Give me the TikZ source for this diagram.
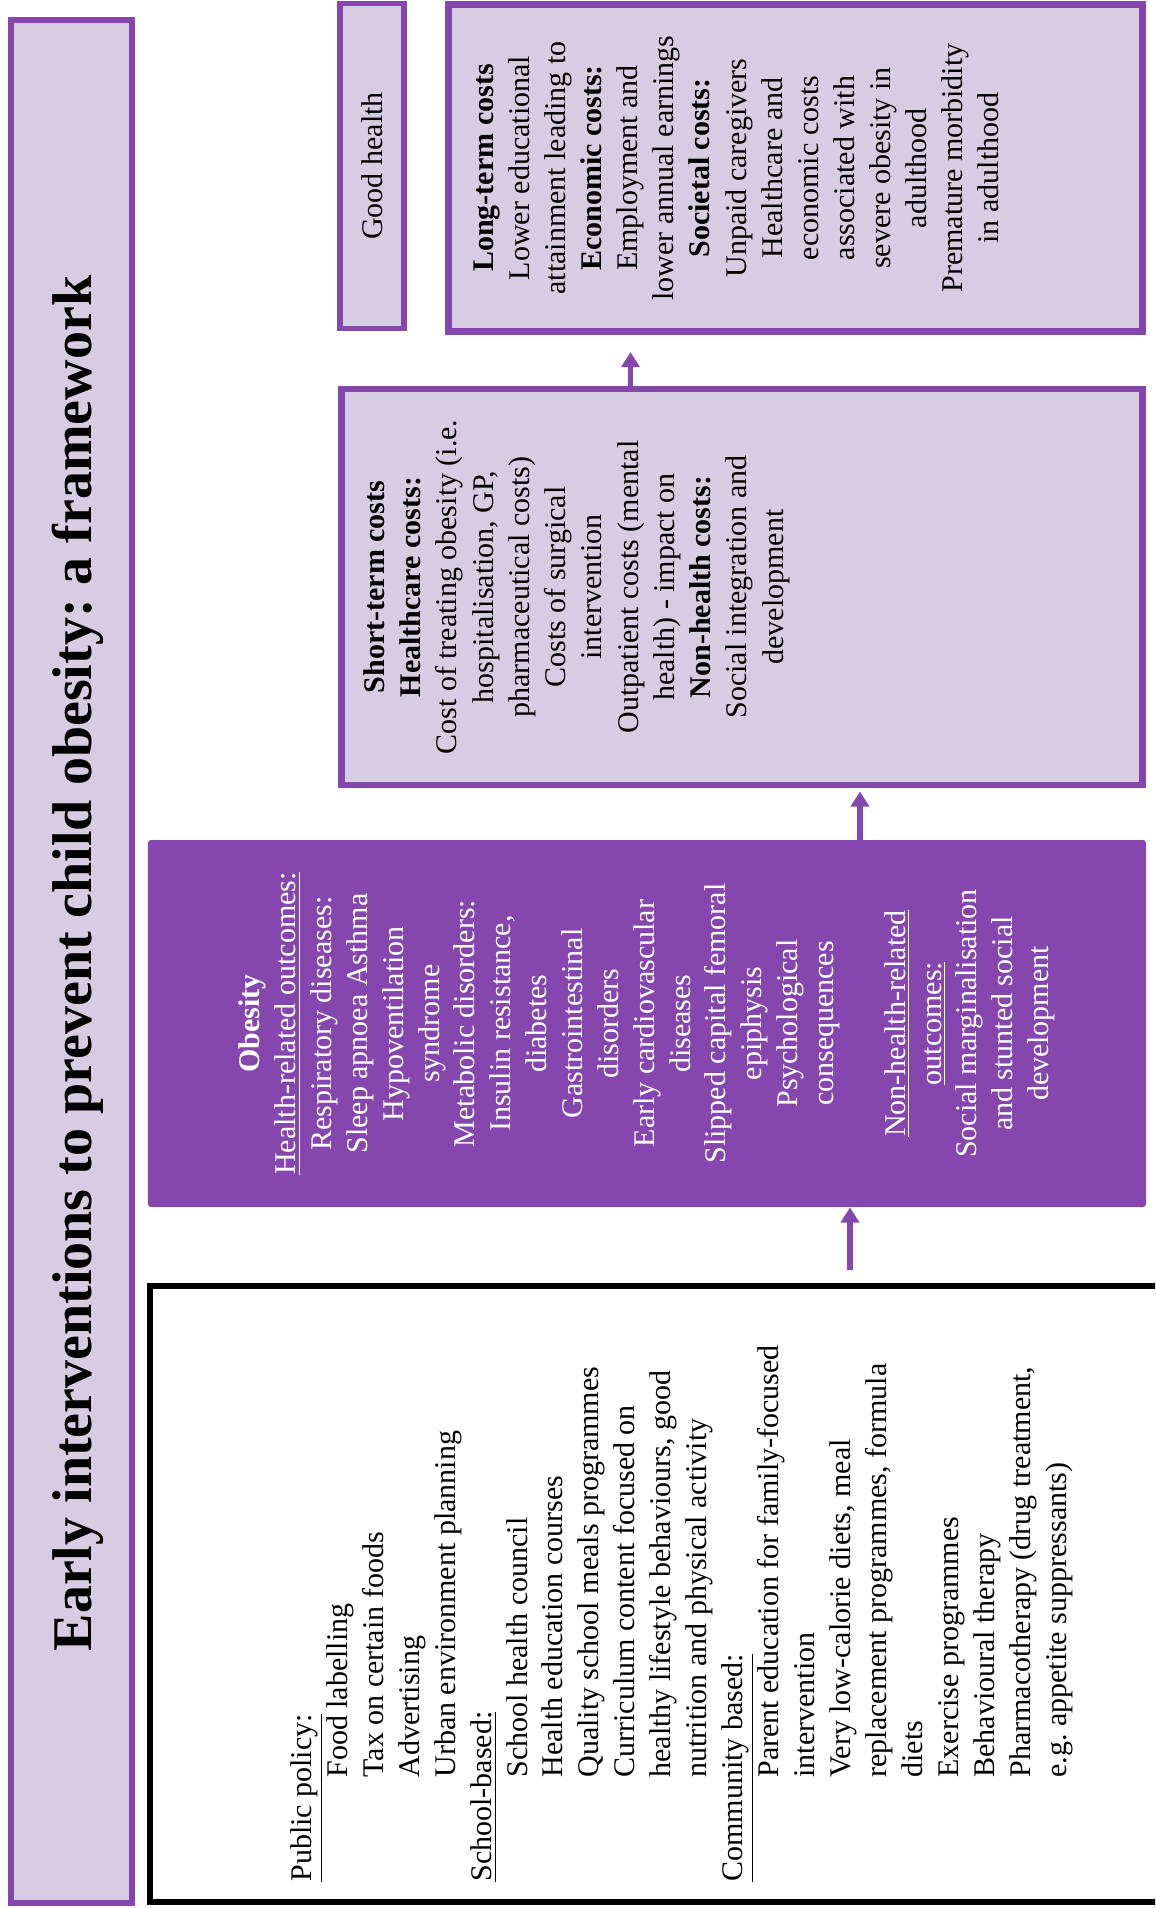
\documentclass[tikz,border=0pt]{standalone}
\usepackage{fontspec}
\setmainfont{Liberation Serif}
\usetikzlibrary{arrows.meta}
\definecolor{plum}{RGB}{133,71,173}
\definecolor{lilac}{RGB}{214,205,227}
\newcommand{\indt}{\hspace*{41.6pt}}
\frenchspacing
\begin{document}
\begin{tikzpicture}[x=0.4pt,y=-0.4pt,
  box/.style={rotate=90,draw=plum,fill=lilac,inner sep=0pt},
  txt/.style={rotate=90,inner sep=0pt,align=center,font=\fontsize{12}{14.45}\selectfont},
  flow/.style={plum,line width=2.2pt,-{Triangle[width=7.2pt,length=6pt]}}]
\useasboundingbox (0,0) rectangle (1155,1908);
\clip (0,0) rectangle (1155,1908);

\node[box,line width=2.3pt,minimum width=753.2pt,minimum height=48.2pt] (title) at (71.5,961.5) {};
\node[txt,anchor=base,font=\fontsize{22.4}{26}\selectfont\bfseries] (titletext) at (91.8,963.5) {Early interventions to prevent child obesity: a framework};

\node[box,draw=black,fill=white,line width=2.4pt,minimum width=246.4pt,minimum height=460pt] (interv) at (725,1594) {};
\node[txt,align=left,anchor=north west,font=\fontsize{12}{14.38}\selectfont] (intervtext) at (290,1882) {\underline{Public policy:}\\
\indt Food labelling\\
\indt Tax on certain foods\\
\indt Advertising\\
\indt Urban environment planning\\
\underline{School-based:}\\
\indt School health council\\
\indt Health education courses\\
\indt Quality school meals programmes\\
\indt Curriculum content focused on\\
\indt healthy lifestyle behaviours, good\\
\indt nutrition and physical activity\\
\underline{Community based:}\\
\indt Parent education for family-focused\\
\indt intervention\\
\indt Very low-calorie diets, meal\\
\indt replacement programmes, formula\\
\indt diets\\
\indt Exercise programmes\\
\indt Behavioural therapy\\
\indt Pharmacotherapy (drug treatment,\\
\indt e.g. appetite suppressants)};

\node[box,draw=none,fill=plum,rounded corners=1.2pt,minimum width=146.8pt,minimum height=399.2pt,text=white,align=center,font=\fontsize{12}{14.34}\selectfont] (obesity) at (647,1023.5) {\textbf{Obesity}\\
\underline{Health-related outcomes:}\\
Respiratory diseases:\\
Sleep apnoea Asthma\\
Hypoventilation\\
syndrome\\
Metabolic disorders:\\
Insulin resistance,\\
diabetes\\
Gastrointestinal\\
disorders\\
Early cardiovascular\\
diseases\\
Slipped capital femoral\\
epiphysis\\
Psychological\\
consequences\\[14.34pt]
\underline{Non-health-related}\\
\underline{outcomes:}\\
Social marginalisation\\
and stunted social\\
development};

\node[box,line width=2.6pt,minimum width=158.4pt,minimum height=320.5pt] (shortterm) at (742,587) {};
\node[txt,anchor=north,font=\fontsize{12}{14.5}\selectfont] (shorttext) at (363,587) {\textbf{Short-term costs}\\
\textbf{Healthcare costs:}\\
Cost of treating obesity (i.e.\\
hospitalisation, GP,\\
pharmaceutical costs)\\
Costs of surgical\\
intervention\\
Outpatient costs (mental\\
health) - impact on\\
\textbf{Non-health costs:}\\
Social integration and\\
development};

\node[box,line width=2.6pt,minimum width=130.9pt,minimum height=277.7pt] (longterm) at (795.5,168) {};
\node[txt,anchor=north] (longtext) at (473,168) {\textbf{Long-term costs}\\
Lower educational\\
attainment leading to\\
\textbf{Economic costs:}\\
Employment and\\
lower annual earnings\\
\textbf{Societal costs:}\\
Unpaid caregivers\\
Healthcare and\\
economic costs\\
associated with\\
severe obesity in\\
adulthood\\
Premature morbidity\\
in adulthood};

\node[box,line width=2.1pt,minimum width=130pt,minimum height=25.6pt,font=\fontsize{12}{14.4}\selectfont] (goodhealth) at (372,166) {Good health};

\coordinate (a1) at (850,0);
\coordinate (a2) at (860,0);
\coordinate (a3) at (630.5,0);
\draw[flow,shorten <=5.2pt] (interv.east -| a1) -- (obesity.west -| a1);
\draw[flow,shorten >=1.3pt] (obesity.east -| a2) -- (shortterm.west -| a2);
\draw[flow,shorten >=6.9pt] (shortterm.east -| a3) -- (longterm.west -| a3);
\end{tikzpicture}
\end{document}
